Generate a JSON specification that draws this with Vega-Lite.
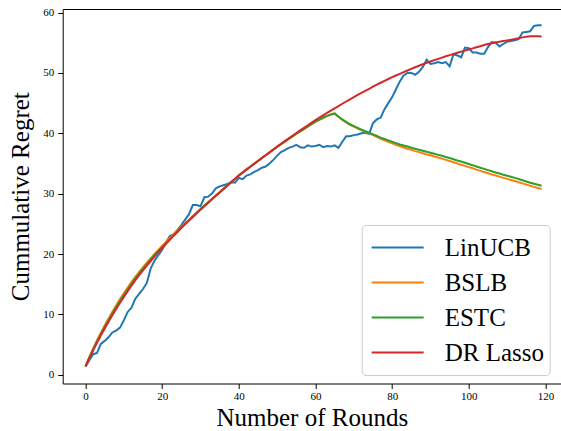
{
  "$schema": "https://vega.github.io/schema/vega-lite/v6.json",
  "width": 498.3,
  "height": 374.5,
  "autosize": "none",
  "padding": {"left": 62.7, "top": 9, "right": 0, "bottom": 47.5},
  "background": "white",
  "data": {"values": [
    {"x":0,"lin":1.3,"bslb":1.4,"estc":1.4,"dr":1.4},
    {"x":1,"lin":2.4,"bslb":2.9,"estc":2.83,"dr":2.75},
    {"x":2,"lin":3.4,"bslb":4.35,"estc":4.2,"dr":4.05},
    {"x":3,"lin":3.6,"bslb":5.7,"estc":5.5,"dr":5.3},
    {"x":4,"lin":5.1,"bslb":6.95,"estc":6.72,"dr":6.5},
    {"x":5,"lin":5.6,"bslb":8.15,"estc":7.9,"dr":7.65},
    {"x":6,"lin":6.2,"bslb":9.32,"estc":9.04,"dr":8.77},
    {"x":7,"lin":7.0,"bslb":10.43,"estc":10.13,"dr":9.85},
    {"x":8,"lin":7.3,"bslb":11.5,"estc":11.2,"dr":10.9},
    {"x":9,"lin":7.8,"bslb":12.52,"estc":12.22,"dr":11.92},
    {"x":10,"lin":9.0,"bslb":13.5,"estc":13.2,"dr":12.9},
    {"x":11,"lin":10.4,"bslb":14.45,"estc":14.15,"dr":13.85},
    {"x":12,"lin":11.1,"bslb":15.37,"estc":15.07,"dr":14.77},
    {"x":13,"lin":12.6,"bslb":16.23,"estc":15.95,"dr":15.65},
    {"x":14,"lin":13.4,"bslb":17.05,"estc":16.78,"dr":16.5},
    {"x":15,"lin":14.2,"bslb":17.82,"estc":17.56,"dr":17.3},
    {"x":16,"lin":15.2,"bslb":18.58,"estc":18.33,"dr":18.08},
    {"x":17,"lin":17.6,"bslb":19.3,"estc":19.07,"dr":18.84},
    {"x":18,"lin":18.9,"bslb":20.0,"estc":19.79,"dr":19.58},
    {"x":19,"lin":19.8,"bslb":20.68,"estc":20.5,"dr":20.3},
    {"x":20,"lin":20.7,"bslb":21.35,"estc":21.18,"dr":21.0},
    {"x":21,"lin":21.9,"bslb":22.0,"estc":21.84,"dr":21.68},
    {"x":22,"lin":23.0,"bslb":22.64,"estc":22.5,"dr":22.35},
    {"x":23,"lin":23.3,"bslb":23.26,"estc":23.13,"dr":23.0},
    {"x":24,"lin":24.0,"bslb":23.88,"estc":23.77,"dr":23.65},
    {"x":25,"lin":24.8,"bslb":24.5,"estc":24.4,"dr":24.3},
    {"x":26,"lin":25.7,"bslb":25.1,"estc":25.02,"dr":24.92},
    {"x":27,"lin":26.6,"bslb":25.69,"estc":25.61,"dr":25.53},
    {"x":28,"lin":28.1,"bslb":26.28,"estc":26.21,"dr":26.14},
    {"x":29,"lin":28.1,"bslb":26.86,"estc":26.8,"dr":26.74},
    {"x":30,"lin":27.9,"bslb":27.45,"estc":27.4,"dr":27.35},
    {"x":31,"lin":29.4,"bslb":28.03,"estc":27.98,"dr":27.93},
    {"x":32,"lin":29.5,"bslb":28.58,"estc":28.54,"dr":28.5},
    {"x":33,"lin":30.0,"bslb":29.14,"estc":29.1,"dr":29.07},
    {"x":34,"lin":30.9,"bslb":29.7,"estc":29.67,"dr":29.64},
    {"x":35,"lin":31.2,"bslb":30.25,"estc":30.22,"dr":30.2},
    {"x":36,"lin":31.4,"bslb":30.81,"estc":30.78,"dr":30.76},
    {"x":37,"lin":31.6,"bslb":31.37,"estc":31.34,"dr":31.32},
    {"x":38,"lin":31.9,"bslb":31.93,"estc":31.9,"dr":31.88},
    {"x":39,"lin":31.8,"bslb":32.49,"estc":32.46,"dr":32.44},
    {"x":40,"lin":32.6,"bslb":33.05,"estc":33.02,"dr":33.0},
    {"x":41,"lin":32.4,"bslb":33.53,"estc":33.5,"dr":33.49},
    {"x":42,"lin":33.0,"bslb":34.02,"estc":34.0,"dr":33.98},
    {"x":43,"lin":33.2,"bslb":34.49,"estc":34.47,"dr":34.46},
    {"x":44,"lin":33.6,"bslb":34.96,"estc":34.95,"dr":34.94},
    {"x":45,"lin":33.9,"bslb":35.43,"estc":35.42,"dr":35.42},
    {"x":46,"lin":34.3,"bslb":35.9,"estc":35.89,"dr":35.9},
    {"x":47,"lin":34.5,"bslb":36.36,"estc":36.36,"dr":36.37},
    {"x":48,"lin":35.0,"bslb":36.82,"estc":36.83,"dr":36.84},
    {"x":49,"lin":35.6,"bslb":37.29,"estc":37.3,"dr":37.32},
    {"x":50,"lin":36.3,"bslb":37.76,"estc":37.77,"dr":37.8},
    {"x":51,"lin":36.9,"bslb":38.19,"estc":38.2,"dr":38.25},
    {"x":52,"lin":37.2,"bslb":38.62,"estc":38.63,"dr":38.7},
    {"x":53,"lin":37.6,"bslb":39.05,"estc":39.06,"dr":39.15},
    {"x":54,"lin":37.8,"bslb":39.48,"estc":39.49,"dr":39.6},
    {"x":55,"lin":38.1,"bslb":39.9,"estc":39.92,"dr":40.05},
    {"x":56,"lin":37.7,"bslb":40.3,"estc":40.33,"dr":40.48},
    {"x":57,"lin":37.6,"bslb":40.7,"estc":40.74,"dr":40.91},
    {"x":58,"lin":38.0,"bslb":41.1,"estc":41.15,"dr":41.34},
    {"x":59,"lin":37.8,"bslb":41.5,"estc":41.55,"dr":41.77},
    {"x":60,"lin":37.9,"bslb":41.9,"estc":41.95,"dr":42.2},
    {"x":61,"lin":38.1,"bslb":42.22,"estc":42.27,"dr":42.59},
    {"x":62,"lin":37.7,"bslb":42.54,"estc":42.59,"dr":42.98},
    {"x":63,"lin":37.9,"bslb":42.84,"estc":42.9,"dr":43.37},
    {"x":64,"lin":37.8,"bslb":43.08,"estc":43.14,"dr":43.76},
    {"x":65,"lin":38.0,"bslb":43.25,"estc":43.3,"dr":44.14},
    {"x":66,"lin":37.6,"bslb":42.7,"estc":42.78,"dr":44.52},
    {"x":67,"lin":38.6,"bslb":42.2,"estc":42.3,"dr":44.9},
    {"x":68,"lin":39.5,"bslb":41.8,"estc":41.9,"dr":45.27},
    {"x":69,"lin":39.5,"bslb":41.4,"estc":41.5,"dr":45.64},
    {"x":70,"lin":39.7,"bslb":41.1,"estc":41.2,"dr":46.0},
    {"x":71,"lin":39.8,"bslb":40.8,"estc":40.9,"dr":46.35},
    {"x":72,"lin":40.0,"bslb":40.5,"estc":40.6,"dr":46.7},
    {"x":73,"lin":40.1,"bslb":40.25,"estc":40.35,"dr":47.04},
    {"x":74,"lin":39.9,"bslb":40.0,"estc":40.1,"dr":47.38},
    {"x":75,"lin":41.7,"bslb":39.7,"estc":39.82,"dr":47.72},
    {"x":76,"lin":42.3,"bslb":39.4,"estc":39.55,"dr":48.05},
    {"x":77,"lin":42.6,"bslb":39.1,"estc":39.28,"dr":48.38},
    {"x":78,"lin":44.0,"bslb":38.85,"estc":39.05,"dr":48.7},
    {"x":79,"lin":45.0,"bslb":38.6,"estc":38.82,"dr":49.0},
    {"x":80,"lin":46.0,"bslb":38.35,"estc":38.6,"dr":49.3},
    {"x":81,"lin":47.3,"bslb":38.1,"estc":38.38,"dr":49.58},
    {"x":82,"lin":48.6,"bslb":37.85,"estc":38.15,"dr":49.86},
    {"x":83,"lin":49.6,"bslb":37.65,"estc":37.97,"dr":50.14},
    {"x":84,"lin":50.0,"bslb":37.45,"estc":37.8,"dr":50.41},
    {"x":85,"lin":50.0,"bslb":37.25,"estc":37.62,"dr":50.68},
    {"x":86,"lin":49.7,"bslb":37.05,"estc":37.45,"dr":50.94},
    {"x":87,"lin":50.2,"bslb":36.88,"estc":37.28,"dr":51.2},
    {"x":88,"lin":51.0,"bslb":36.7,"estc":37.1,"dr":51.45},
    {"x":89,"lin":52.2,"bslb":36.5,"estc":36.93,"dr":51.68},
    {"x":90,"lin":51.5,"bslb":36.35,"estc":36.78,"dr":51.9},
    {"x":91,"lin":51.6,"bslb":36.15,"estc":36.6,"dr":52.12},
    {"x":92,"lin":51.8,"bslb":35.98,"estc":36.43,"dr":52.34},
    {"x":93,"lin":51.6,"bslb":35.8,"estc":36.27,"dr":52.55},
    {"x":94,"lin":51.8,"bslb":35.6,"estc":36.08,"dr":52.76},
    {"x":95,"lin":51.1,"bslb":35.4,"estc":35.9,"dr":52.96},
    {"x":96,"lin":53.1,"bslb":35.2,"estc":35.7,"dr":53.16},
    {"x":97,"lin":52.9,"bslb":35.0,"estc":35.5,"dr":53.35},
    {"x":98,"lin":52.6,"bslb":34.8,"estc":35.32,"dr":53.54},
    {"x":99,"lin":54.2,"bslb":34.6,"estc":35.12,"dr":53.72},
    {"x":100,"lin":54.1,"bslb":34.4,"estc":34.92,"dr":53.9},
    {"x":101,"lin":53.4,"bslb":34.2,"estc":34.72,"dr":54.08},
    {"x":102,"lin":53.4,"bslb":33.98,"estc":34.5,"dr":54.26},
    {"x":103,"lin":53.2,"bslb":33.78,"estc":34.3,"dr":54.44},
    {"x":104,"lin":53.2,"bslb":33.58,"estc":34.1,"dr":54.62},
    {"x":105,"lin":54.3,"bslb":33.38,"estc":33.9,"dr":54.8},
    {"x":106,"lin":55.1,"bslb":33.18,"estc":33.7,"dr":54.94},
    {"x":107,"lin":55.0,"bslb":33.0,"estc":33.52,"dr":55.07},
    {"x":108,"lin":54.4,"bslb":32.82,"estc":33.34,"dr":55.19},
    {"x":109,"lin":54.8,"bslb":32.62,"estc":33.14,"dr":55.3},
    {"x":110,"lin":55.2,"bslb":32.45,"estc":32.97,"dr":55.4},
    {"x":111,"lin":55.3,"bslb":32.27,"estc":32.79,"dr":55.5},
    {"x":112,"lin":55.4,"bslb":32.1,"estc":32.62,"dr":55.62},
    {"x":113,"lin":55.6,"bslb":31.9,"estc":32.42,"dr":55.76},
    {"x":114,"lin":56.7,"bslb":31.7,"estc":32.22,"dr":55.9},
    {"x":115,"lin":56.8,"bslb":31.5,"estc":32.02,"dr":56.02},
    {"x":116,"lin":56.9,"bslb":31.3,"estc":31.82,"dr":56.08},
    {"x":117,"lin":57.8,"bslb":31.12,"estc":31.64,"dr":56.1},
    {"x":118,"lin":57.9,"bslb":30.95,"estc":31.47,"dr":56.1},
    {"x":119,"lin":57.9,"bslb":30.78,"estc":31.3,"dr":56.05}
  ]},
  "layer": [
    {
      "mark": {"type": "line", "strokeWidth": 2},
      "encoding": {
        "x": {"field": "x", "type": "quantitative", "scale": {"domain": [-5.95, 124.05], "nice": false, "zero": false},
              "axis": {"orient": "bottom", "values": [0, 20, 40, 60, 80, 100, 120], "title": "Number of Rounds", "labelPadding": 2, "titlePadding": 4}},
        "y": {"field": "lin", "type": "quantitative", "title": "Cummulative Regret", "scale": {"domain": [-1.46, 60.6], "nice": false, "zero": false},
              "axis": {"values": [0, 10, 20, 30, 40, 50, 60], "labelPadding": 4, "titlePadding": 9}},
        "color": {"datum": "LinUCB", "type": "nominal",
                  "scale": {"domain": ["LinUCB", "BSLB", "ESTC", "DR Lasso"], "range": ["#1f77b4", "#ff7f0e", "#2ca02c", "#d62728"]},
                  "legend": {"orient": "none", "legendX": 299, "legendY": 216, "title": null, "symbolType": "stroke", "symbolSize": 2704, "symbolStrokeWidth": 2, "symbolOffset": 4,
                             "labelFont": "Liberation Serif", "labelFontSize": 25, "labelColor": "black", "labelOffset": 20, "padding": 5,
                             "fillColor": "white", "strokeColor": "#cccccc", "cornerRadius": 4, "clipHeight": 35, "rowPadding": 0}}
      }
    },
    {
      "mark": {"type": "line", "strokeWidth": 2},
      "encoding": {
        "x": {"field": "x", "type": "quantitative", "axis": null},
        "y": {"field": "bslb", "type": "quantitative", "title": "Cummulative Regret"},
        "color": {"datum": "BSLB", "type": "nominal"}
      }
    },
    {
      "mark": {"type": "line", "strokeWidth": 2},
      "encoding": {
        "x": {"field": "x", "type": "quantitative", "axis": null},
        "y": {"field": "estc", "type": "quantitative", "title": "Cummulative Regret"},
        "color": {"datum": "ESTC", "type": "nominal"}
      }
    },
    {
      "mark": {"type": "line", "strokeWidth": 2},
      "encoding": {
        "x": {"field": "x", "type": "quantitative", "axis": {"orient": "top", "labels": false, "ticks": false, "title": null, "domain": true}},
        "y": {"field": "dr", "type": "quantitative", "title": "Cummulative Regret"},
        "color": {"datum": "DR Lasso", "type": "nominal"}
      }
    }
  ],
  "resolve": {"axis": {"x": "independent"}},
  "config": {
    "view": {"stroke": null},
    "axis": {"labelFont": "Liberation Serif", "labelFontSize": 11, "labelColor": "black", "titleFont": "Liberation Serif", "titleFontSize": 25, "titleFontWeight": "normal", "titleColor": "black",
             "tickColor": "black", "tickSize": 5, "domainColor": "black", "domainWidth": 1, "grid": false}
  }
}
